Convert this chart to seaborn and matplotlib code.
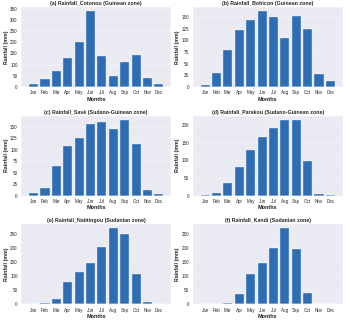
import matplotlib
matplotlib.use('Agg')
import matplotlib.pyplot as plt
import seaborn as sns
import pandas as pd

sns.set_theme(style='darkgrid')
plt.rcParams['font.family'] = ['Liberation Sans', 'DejaVu Sans']

months = ['Jan', 'Feb', 'Mar', 'Apr', 'May', 'Jun', 'Jul', 'Aug', 'Sep', 'Oct', 'Nov', 'Dec']

# Pluie mensuelle moyenne (mm) par station
cotonou = [12, 35, 73, 130, 200, 340, 138, 47, 113, 143, 42, 14]
bohicon = [5, 30, 79, 123, 143, 163, 150, 104, 152, 125, 27, 12]
save = [6, 16, 65, 108, 125, 157, 161, 145, 166, 113, 13, 3]
parakou = [3, 8, 35, 82, 130, 167, 190, 213, 215, 99, 5, 3]
natitingou = [0, 3, 20, 79, 115, 148, 205, 270, 251, 106, 9, 1]
kandi = [0, 1, 5, 35, 110, 148, 202, 272, 196, 40, 0, 0]

titles = ['(a) Rainfall_Cotonou (Guinean zone)',
          '(b) Rainfall_Bohicon (Guinean zone)',
          '(c) Rainfall_Savè (Sudano-Guinean zone)',
          '(d) Rainfall_Parakou (Sudano-Guinean zone)',
          '(e) Rainfall_Natitingou (Sudanian zone)',
          '(f) Rainfall_Kandi (Sudanian zone)']
series = [cotonou, bohicon, save, parakou, natitingou, kandi]

fig, axes = plt.subplots(3, 2, figsize=(14, 12.88), dpi=25)
plt.subplots_adjust(left=0.06, right=0.98, top=0.978, bottom=0.055,
                    hspace=0.36, wspace=0.14)

for ax, values, title in zip(axes.flat, series, titles):
    df = pd.DataFrame({'Months': months, 'Rainfall': values})
    sns.barplot(data=df, x='Months', y='Rainfall', color='#2e6db4',
                saturation=1, ax=ax)
    # marges comme plt.bar par défaut (5%)
    n = len(months)
    ax.set_xlim(-0.4 - 0.059 * n, n - 0.6 + 0.059 * n)
    ax.set_ylim(0, max(values) * 1.05)
    ax.set_title(title, fontsize=15, fontweight='bold')
    ax.set_xlabel('Months', fontsize=16, fontweight='bold')
    ax.set_ylabel('Rainfall (mm)', fontsize=15, fontweight='bold')
    ax.tick_params(labelsize=13)

fig.savefig('out.png', dpi=25)
